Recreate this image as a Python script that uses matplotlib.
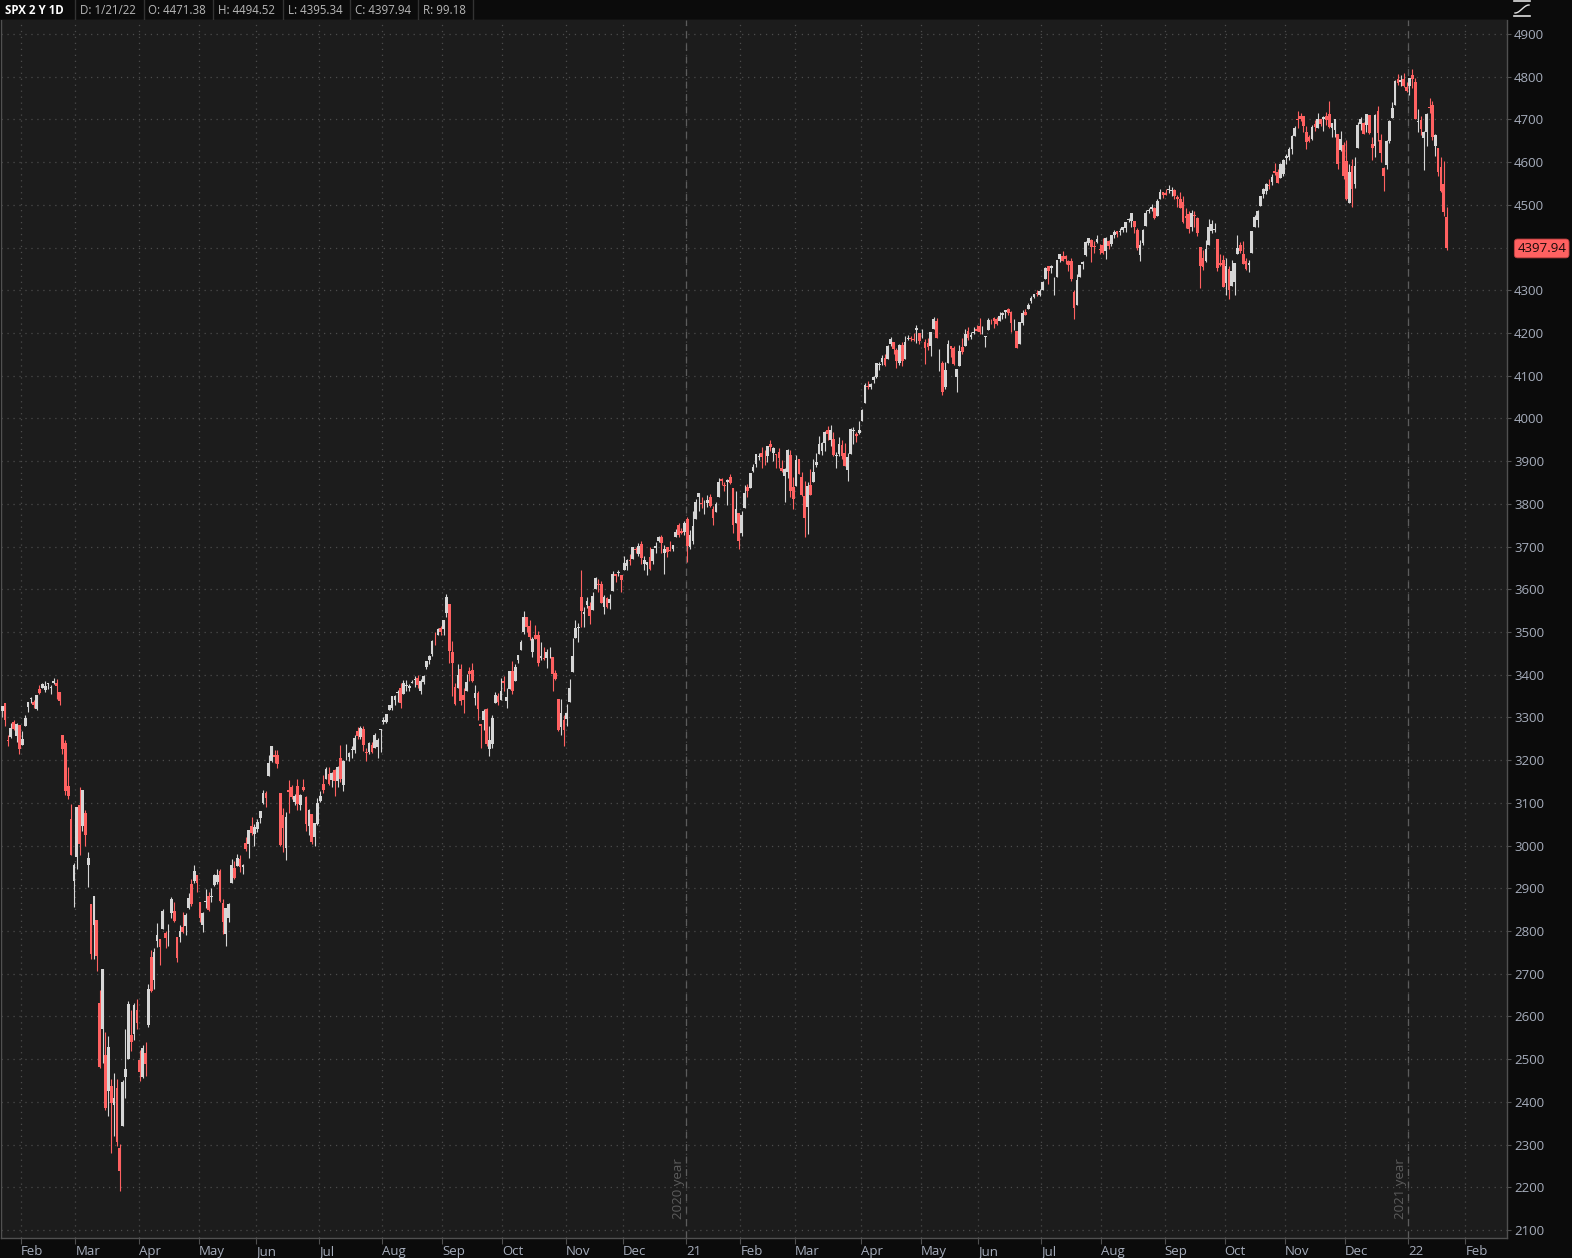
import numpy as np
import matplotlib
matplotlib.use("Agg")
import matplotlib.pyplot as plt
import matplotlib.transforms as mtransforms

plt.rcParams['font.family'] = ['Open Sans', 'DejaVu Sans']
plt.rcParams['lines.scale_dashes'] = False

# — SPX daily candles (open, high, low, close), one list per month —
jan20 = [(3321, 3329, 3301, 3321), (3330, 3337, 3320, 3322), (3316, 3326, 3302, 3326), (3334, 3334, 3281, 3295),
         (3248, 3259, 3234, 3244), (3255, 3286, 3253, 3276), (3289, 3293, 3271, 3273), (3256, 3286, 3242, 3284),
         (3283, 3283, 3214, 3226)]
feb20 = [(3235, 3268, 3235, 3249), (3280, 3306, 3280, 3298), (3324, 3337, 3313, 3335), (3344, 3347, 3334, 3346),
         (3335, 3341, 3322, 3328), (3319, 3352, 3317, 3352), (3366, 3376, 3355, 3358), (3370, 3381, 3369, 3379),
         (3365, 3385, 3360, 3374), (3379, 3381, 3367, 3380), (3369, 3375, 3355, 3370), (3380, 3393, 3378, 3386),
         (3380, 3390, 3342, 3373), (3360, 3360, 3328, 3338), (3258, 3260, 3215, 3226), (3239, 3247, 3119, 3128),
         (3140, 3183, 3109, 3116), (3063, 3097, 2977, 2979), (2917, 2960, 2856, 2954)]
mar20 = [(2974, 3091, 2945, 3090), (3096, 3137, 2977, 3003), (3046, 3131, 3034, 3130), (3076, 3083, 3000, 3024),
         (2954, 2986, 2902, 2972), (2864, 2864, 2734, 2747), (2813, 2883, 2734, 2882), (2826, 2826, 2707, 2741),
         (2631, 2661, 2479, 2481), (2570, 2711, 2492, 2711), (2509, 2563, 2381, 2386), (2426, 2554, 2367, 2529),
         (2437, 2454, 2281, 2398), (2393, 2467, 2320, 2409), (2432, 2453, 2296, 2305), (2291, 2301, 2192, 2237),
         (2344, 2450, 2344, 2447), (2458, 2571, 2408, 2476), (2501, 2637, 2501, 2630), (2556, 2616, 2520, 2541),
         (2559, 2632, 2545, 2627), (2615, 2641, 2571, 2585)]
apr20 = [(2499, 2522, 2448, 2471), (2458, 2533, 2455, 2527), (2514, 2539, 2460, 2489), (2579, 2676, 2575, 2664),
         (2738, 2756, 2657, 2659), (2686, 2760, 2664, 2750), (2776, 2819, 2762, 2790), (2782, 2782, 2721, 2762),
         (2805, 2851, 2805, 2846), (2795, 2801, 2761, 2783), (2799, 2816, 2765, 2800), (2843, 2879, 2830, 2875),
         (2846, 2868, 2821, 2823), (2785, 2785, 2727, 2737), (2787, 2815, 2775, 2799), (2810, 2845, 2795, 2798),
         (2812, 2842, 2791, 2837), (2855, 2888, 2852, 2878), (2910, 2922, 2859, 2863), (2918, 2954, 2912, 2940),
         (2930, 2930, 2892, 2912)]
may20 = [(2869, 2869, 2821, 2831), (2815, 2844, 2798, 2843), (2868, 2898, 2853, 2868), (2883, 2891, 2847, 2848),
         (2879, 2901, 2867, 2881), (2908, 2933, 2906, 2930), (2915, 2945, 2909, 2930), (2940, 2945, 2869, 2870),
         (2865, 2875, 2794, 2820), (2794, 2852, 2766, 2853), (2830, 2865, 2822, 2864), (2913, 2969, 2913, 2954),
         (2948, 2965, 2922, 2923), (2953, 2981, 2953, 2972), (2969, 2978, 2939, 2949), (2949, 2957, 2933, 2955),
         (3005, 3021, 2988, 2992), (3004, 3037, 2970, 3036), (3046, 3068, 3024, 3030), (3026, 3050, 2999, 3044)]
jun20 = [(3038, 3063, 3031, 3056), (3064, 3082, 3052, 3081), (3099, 3130, 3098, 3123), (3123, 3128, 3090, 3112),
         (3163, 3212, 3163, 3194), (3199, 3233, 3196, 3232), (3213, 3223, 3194, 3207), (3213, 3223, 3181, 3190),
         (3123, 3123, 2999, 3002), (3072, 3088, 2984, 3041), (2994, 3079, 2966, 3067), (3131, 3154, 3076, 3125),
         (3137, 3141, 3108, 3113), (3101, 3121, 3094, 3115), (3140, 3155, 3084, 3098), (3095, 3121, 3084, 3118),
         (3138, 3155, 3127, 3131), (3114, 3116, 3033, 3050), (3046, 3086, 3025, 3084), (3074, 3074, 3004, 3009),
         (3019, 3054, 2999, 3053), (3050, 3111, 3048, 3100)]
jul20 = [(3105, 3128, 3101, 3116), (3143, 3165, 3124, 3130), (3156, 3183, 3156, 3180), (3167, 3184, 3142, 3145),
         (3154, 3172, 3137, 3170), (3176, 3180, 3115, 3152), (3152, 3186, 3136, 3185), (3205, 3235, 3150, 3155),
         (3141, 3200, 3128, 3198), (3225, 3238, 3200, 3227), (3208, 3220, 3199, 3216), (3224, 3233, 3205, 3225),
         (3224, 3258, 3216, 3252), (3268, 3277, 3249, 3257), (3255, 3279, 3250, 3276), (3272, 3280, 3222, 3236),
         (3219, 3228, 3198, 3216), (3219, 3242, 3215, 3239), (3235, 3243, 3216, 3218), (3228, 3264, 3228, 3258),
         (3231, 3251, 3205, 3246), (3270, 3272, 3220, 3271)]
aug20 = [(3289, 3302, 3284, 3295), (3289, 3307, 3286, 3307), (3318, 3330, 3318, 3328), (3323, 3351, 3318, 3349),
         (3340, 3352, 3329, 3351), (3357, 3364, 3336, 3360), (3370, 3381, 3323, 3334), (3355, 3387, 3355, 3380),
         (3373, 3387, 3363, 3373), (3368, 3378, 3362, 3373), (3381, 3388, 3380, 3382), (3387, 3396, 3371, 3390),
         (3392, 3399, 3370, 3375), (3361, 3391, 3354, 3386), (3384, 3399, 3379, 3397), (3419, 3432, 3414, 3431),
         (3435, 3445, 3424, 3444), (3449, 3481, 3444, 3479), (3486, 3501, 3469, 3485), (3494, 3510, 3492, 3508),
         (3509, 3514, 3494, 3500)]
sep20 = [(3507, 3529, 3494, 3527), (3544, 3588, 3535, 3581), (3565, 3565, 3427, 3455), (3453, 3479, 3349, 3427),
         (3371, 3380, 3330, 3332), (3370, 3425, 3370, 3399), (3413, 3425, 3329, 3339), (3353, 3368, 3311, 3341),
         (3363, 3402, 3363, 3384), (3408, 3419, 3385, 3401), (3411, 3428, 3384, 3385), (3346, 3375, 3328, 3357),
         (3357, 3362, 3293, 3319), (3285, 3285, 3229, 3281), (3295, 3320, 3270, 3316), (3320, 3323, 3232, 3237),
         (3226, 3279, 3210, 3247), (3237, 3306, 3228, 3298), (3334, 3360, 3333, 3352), (3350, 3357, 3328, 3335),
         (3341, 3393, 3340, 3363)]
oct20 = [(3385, 3397, 3362, 3381), (3339, 3370, 3323, 3348), (3367, 3409, 3367, 3409), (3408, 3432, 3355, 3361),
         (3385, 3426, 3385, 3419), (3434, 3447, 3428, 3447), (3459, 3482, 3458, 3477), (3500, 3550, 3496, 3534),
         (3534, 3534, 3501, 3512), (3515, 3527, 3481, 3489), (3453, 3489, 3441, 3483), (3493, 3516, 3483, 3484),
         (3494, 3502, 3420, 3427), (3439, 3477, 3435, 3443), (3440, 3465, 3434, 3436), (3439, 3461, 3416, 3453),
         (3464, 3466, 3440, 3465), (3441, 3442, 3363, 3401), (3404, 3410, 3388, 3391), (3342, 3342, 3268, 3271),
         (3278, 3342, 3260, 3310), (3293, 3305, 3234, 3270)]
nov20 = [(3296, 3331, 3280, 3310), (3336, 3389, 3336, 3369), (3407, 3486, 3406, 3443), (3485, 3529, 3485, 3510),
         (3509, 3521, 3477, 3509), (3583, 3646, 3511, 3550), (3543, 3558, 3511, 3546), (3564, 3582, 3557, 3573),
         (3562, 3570, 3519, 3537), (3552, 3593, 3552, 3585), (3600, 3628, 3600, 3627), (3611, 3624, 3593, 3610),
         (3612, 3619, 3567, 3568), (3559, 3586, 3543, 3582), (3580, 3582, 3556, 3558), (3567, 3589, 3553, 3578),
         (3595, 3643, 3595, 3635), (3635, 3636, 3617, 3630), (3638, 3645, 3630, 3638), (3634, 3634, 3594, 3622)]
dec20 = [(3645, 3679, 3645, 3662), (3654, 3670, 3645, 3669), (3669, 3683, 3658, 3667), (3670, 3700, 3670, 3699),
         (3694, 3698, 3684, 3692), (3683, 3709, 3678, 3702), (3706, 3712, 3660, 3673), (3659, 3678, 3646, 3668),
         (3656, 3665, 3634, 3663), (3675, 3698, 3645, 3647), (3667, 3695, 3660, 3695), (3696, 3711, 3685, 3701),
         (3714, 3725, 3711, 3722), (3722, 3726, 3685, 3709), (3684, 3703, 3636, 3695), (3698, 3698, 3676, 3687),
         (3693, 3712, 3689, 3690), (3694, 3704, 3689, 3703), (3723, 3741, 3723, 3735), (3751, 3756, 3723, 3727),
         (3736, 3744, 3730, 3732), (3734, 3761, 3726, 3756)]
jan21 = [(3764, 3770, 3663, 3701), (3698, 3738, 3695, 3727), (3712, 3783, 3705, 3748), (3764, 3811, 3764, 3804),
         (3815, 3826, 3784, 3825), (3803, 3817, 3790, 3800), (3801, 3810, 3777, 3801), (3802, 3821, 3792, 3810),
         (3815, 3823, 3792, 3796), (3789, 3796, 3750, 3768), (3781, 3804, 3780, 3799), (3816, 3860, 3816, 3852),
         (3858, 3861, 3845, 3853), (3845, 3852, 3831, 3841), (3852, 3859, 3797, 3855), (3863, 3871, 3847, 3850),
         (3836, 3836, 3732, 3751), (3755, 3830, 3755, 3787), (3778, 3778, 3694, 3714)]
feb21 = [(3732, 3784, 3725, 3774), (3791, 3843, 3791, 3826), (3840, 3847, 3816, 3830), (3836, 3872, 3836, 3872),
         (3878, 3894, 3874, 3887), (3893, 3915, 3886, 3916), (3910, 3919, 3903, 3911), (3920, 3932, 3885, 3910),
         (3917, 3925, 3890, 3916), (3911, 3935, 3898, 3935), (3940, 3950, 3923, 3933), (3918, 3933, 3901, 3931),
         (3916, 3916, 3885, 3914), (3921, 3931, 3885, 3907), (3885, 3903, 3874, 3877), (3865, 3883, 3805, 3881),
         (3874, 3929, 3860, 3925), (3915, 3925, 3815, 3829), (3839, 3862, 3789, 3811)]
mar21 = [(3842, 3915, 3842, 3902), (3904, 3906, 3869, 3870), (3864, 3874, 3818, 3820), (3819, 3853, 3723, 3768),
         (3793, 3851, 3730, 3842), (3844, 3881, 3820, 3821), (3851, 3904, 3851, 3875), (3891, 3918, 3886, 3899),
         (3916, 3960, 3916, 3939), (3924, 3944, 3915, 3943), (3943, 3970, 3924, 3969), (3974, 3982, 3950, 3963),
         (3950, 3984, 3935, 3974), (3953, 3969, 3913, 3915), (3913, 3921, 3885, 3913), (3917, 3956, 3911, 3941),
         (3938, 3950, 3906, 3911), (3920, 3943, 3889, 3889), (3880, 3919, 3854, 3910), (3917, 3978, 3917, 3975),
         (3970, 3981, 3940, 3971), (3963, 3968, 3944, 3959), (3967, 3994, 3964, 3973)]
apr21 = [(3993, 4021, 3993, 4020), (4035, 4084, 4035, 4078), (4075, 4087, 4068, 4074), (4074, 4083, 4068, 4080),
         (4089, 4099, 4083, 4097), (4096, 4129, 4095, 4129), (4124, 4131, 4114, 4128), (4131, 4148, 4125, 4142),
         (4141, 4152, 4123, 4125), (4140, 4173, 4140, 4170), (4175, 4191, 4170, 4185), (4179, 4180, 4150, 4163),
         (4160, 4164, 4119, 4135), (4129, 4175, 4126, 4173), (4171, 4179, 4123, 4135), (4139, 4194, 4139, 4180),
         (4185, 4195, 4183, 4188), (4188, 4194, 4182, 4187), (4186, 4201, 4181, 4183), (4206, 4219, 4176, 4211),
         (4199, 4199, 4174, 4181)]
may21 = [(4192, 4209, 4188, 4193), (4180, 4187, 4128, 4165), (4177, 4188, 4161, 4168), (4170, 4202, 4147, 4202),
         (4210, 4238, 4210, 4233), (4228, 4236, 4188, 4188), (4150, 4162, 4111, 4152), (4130, 4135, 4056, 4063),
         (4074, 4131, 4069, 4113), (4130, 4184, 4130, 4174), (4169, 4170, 4144, 4163), (4165, 4170, 4124, 4128),
         (4098, 4116, 4062, 4116), (4122, 4173, 4122, 4159), (4168, 4188, 4151, 4156), (4170, 4210, 4170, 4197),
         (4205, 4213, 4183, 4188), (4191, 4203, 4187, 4196), (4201, 4213, 4197, 4201), (4210, 4218, 4204, 4204)]
jun21 = [(4216, 4234, 4198, 4202), (4206, 4217, 4198, 4208), (4191, 4193, 4167, 4193), (4207, 4234, 4207, 4230),
         (4229, 4233, 4220, 4227), (4234, 4237, 4211, 4227), (4233, 4238, 4219, 4220), (4229, 4249, 4229, 4239),
         (4242, 4249, 4233, 4247), (4248, 4255, 4235, 4255), (4256, 4258, 4242, 4247), (4249, 4252, 4202, 4224),
         (4220, 4233, 4206, 4222), (4204, 4204, 4165, 4166), (4174, 4226, 4174, 4225), (4224, 4255, 4218, 4246),
         (4249, 4256, 4241, 4242), (4257, 4271, 4257, 4266), (4274, 4287, 4271, 4281), (4285, 4292, 4282, 4291),
         (4293, 4301, 4287, 4292), (4290, 4302, 4287, 4298)]
jul21 = [(4301, 4321, 4301, 4320), (4326, 4355, 4326, 4352), (4356, 4357, 4315, 4344), (4352, 4359, 4340, 4358),
         (4321, 4331, 4290, 4321), (4330, 4372, 4330, 4370), (4373, 4386, 4366, 4385), (4381, 4393, 4368, 4369),
         (4381, 4383, 4362, 4374), (4369, 4370, 4346, 4360), (4368, 4376, 4322, 4327), (4297, 4301, 4233, 4258),
         (4266, 4337, 4266, 4323), (4331, 4359, 4331, 4359), (4361, 4369, 4350, 4367), (4382, 4415, 4381, 4412),
         (4410, 4423, 4405, 4422), (4417, 4419, 4367, 4401), (4403, 4416, 4387, 4401), (4412, 4430, 4411, 4419),
         (4396, 4408, 4384, 4395)]
aug21 = [(4406, 4422, 4385, 4387), (4392, 4424, 4373, 4423), (4416, 4417, 4397, 4403), (4408, 4430, 4404, 4429),
         (4429, 4441, 4423, 4437), (4438, 4439, 4424, 4432), (4436, 4445, 4430, 4437), (4442, 4449, 4436, 4448),
         (4446, 4461, 4436, 4461), (4464, 4469, 4460, 4468), (4462, 4480, 4448, 4480), (4462, 4462, 4435, 4448),
         (4441, 4445, 4395, 4400), (4383, 4418, 4368, 4406), (4410, 4444, 4406, 4442), (4451, 4489, 4451, 4480),
         (4485, 4492, 4482, 4486), (4490, 4502, 4486, 4496), (4493, 4496, 4468, 4470), (4475, 4513, 4474, 4509),
         (4514, 4538, 4514, 4529), (4529, 4531, 4515, 4523)]
sep21 = [(4528, 4537, 4522, 4524), (4535, 4546, 4527, 4537), (4532, 4541, 4521, 4535), (4535, 4536, 4513, 4520),
         (4518, 4522, 4494, 4514), (4514, 4529, 4493, 4493), (4506, 4521, 4457, 4459), (4474, 4492, 4446, 4469),
         (4479, 4485, 4435, 4443), (4447, 4487, 4439, 4481), (4477, 4485, 4448, 4474), (4470, 4471, 4428, 4433),
         (4402, 4402, 4306, 4358), (4375, 4394, 4348, 4354), (4368, 4417, 4367, 4396), (4406, 4466, 4406, 4449),
         (4438, 4464, 4435, 4455), (4442, 4457, 4437, 4443), (4419, 4419, 4346, 4353), (4363, 4385, 4357, 4359),
         (4371, 4383, 4307, 4308)]
oct21 = [(4317, 4375, 4289, 4357), (4349, 4356, 4279, 4300), (4310, 4370, 4310, 4346), (4320, 4365, 4288, 4364),
         (4385, 4429, 4384, 4400), (4407, 4412, 4387, 4391), (4386, 4416, 4361, 4361), (4368, 4375, 4347, 4351),
         (4359, 4372, 4342, 4364), (4387, 4439, 4387, 4438), (4448, 4476, 4448, 4471), (4464, 4488, 4447, 4486),
         (4498, 4521, 4498, 4520), (4525, 4540, 4517, 4536), (4532, 4551, 4526, 4550), (4547, 4560, 4537, 4545),
         (4554, 4573, 4547, 4566), (4580, 4598, 4570, 4575), (4578, 4585, 4551, 4552), (4563, 4598, 4562, 4596),
         (4573, 4608, 4568, 4605)]
nov21 = [(4610, 4620, 4595, 4614), (4613, 4636, 4604, 4631), (4631, 4664, 4620, 4661), (4662, 4684, 4662, 4680),
         (4700, 4719, 4681, 4698), (4707, 4715, 4697, 4702), (4708, 4708, 4670, 4685), (4670, 4685, 4631, 4647),
         (4660, 4663, 4648, 4649), (4655, 4688, 4651, 4683), (4689, 4698, 4672, 4683), (4680, 4715, 4680, 4701),
         (4702, 4702, 4684, 4689), (4700, 4708, 4672, 4705), (4708, 4718, 4687, 4698), (4712, 4744, 4680, 4683),
         (4679, 4692, 4659, 4691), (4676, 4702, 4660, 4701), (4665, 4665, 4585, 4595), (4628, 4673, 4625, 4655),
         (4640, 4647, 4560, 4567)]
dec21 = [(4602, 4652, 4511, 4513), (4505, 4596, 4505, 4577), (4590, 4608, 4496, 4538), (4548, 4613, 4540, 4592),
         (4632, 4695, 4632, 4687), (4690, 4706, 4675, 4701), (4691, 4695, 4666, 4667), (4688, 4713, 4670, 4712),
         (4710, 4711, 4667, 4669), (4643, 4660, 4606, 4634), (4637, 4713, 4612, 4710), (4720, 4732, 4649, 4669),
         (4652, 4667, 4600, 4621), (4587, 4589, 4532, 4568), (4594, 4651, 4583, 4649), (4650, 4698, 4645, 4697),
         (4703, 4740, 4703, 4726), (4733, 4792, 4733, 4791), (4795, 4807, 4780, 4786), (4788, 4805, 4778, 4793),
         (4795, 4808, 4775, 4779), (4776, 4787, 4765, 4766)]
jan22 = [(4778, 4797, 4758, 4797), (4804, 4819, 4774, 4794), (4788, 4798, 4700, 4701), (4694, 4725, 4671, 4696),
         (4698, 4708, 4663, 4677), (4656, 4674, 4582, 4670), (4670, 4715, 4638, 4713), (4729, 4749, 4716, 4726),
         (4733, 4744, 4651, 4659), (4637, 4666, 4614, 4663), (4632, 4632, 4568, 4577), (4589, 4611, 4530, 4533),
         (4548, 4603, 4475, 4483), (4471.38, 4494.52, 4395.34, 4397.94)]

months = [("", jan20), ("Feb", feb20), ("Mar", mar20), ("Apr", apr20), ("May", may20), ("Jun", jun20),
          ("Jul", jul20), ("Aug", aug20), ("Sep", sep20), ("Oct", oct20), ("Nov", nov20), ("Dec", dec20),
          ("21", jan21), ("Feb", feb21), ("Mar", mar21), ("Apr", apr21), ("May", may21), ("Jun", jun21),
          ("Jul", jul21), ("Aug", aug21), ("Sep", sep21), ("Oct", oct21), ("Nov", nov21), ("Dec", dec21),
          ("22", jan22)]
jan22_sessions = 20   # full January 2022, to place the Feb tick
header = ["D: 1/21/22", "O: 4471.38", "H: 4494.52", "L: 4395.34", "C: 4397.94", "R: 99.18"]
last_close = 4397.94

# — build arrays —
rows = np.array([r for _, m in months for r in m], dtype=float)
o, h, l, c = rows.T
x = np.arange(len(rows))
starts = np.cumsum([0] + [len(m) for _, m in months])[:-1]
tick_pos = [s - 0.45 for s in starts[1:]] + [starts[-1] + jan22_sessions - 0.45]
tick_lab = [lab for lab, _ in months[1:]] + ["Feb"]

BG_OUT = '#0b0b0b'
BG_IN = '#1c1c1c'
UP = '#d6d6d6'
DN = '#ff6161'
GRID = '#4c4c4c'
AXC = '#a6adbb'
LINE = '#505050'

W, H = 1572, 1258
fig = plt.figure(figsize=(W / 100, H / 100), dpi=100, facecolor=BG_OUT)
ax = fig.add_axes([1 / W, 20 / H, 1506 / W, 1218 / H])
ax.set_facecolor(BG_IN)

x0 = 9 + (1 - 22.3) / 2.866
x1 = 9 + (1507 - 22.3) / 2.866
ax.set_xlim(x0, x1)
ax.set_ylim(2100 - 8 / 0.42714, 4900 + 14 / 0.42714)

dots = (0, (0.9, 3.4))
for yv in range(2100, 5000, 100):
    ax.axhline(yv, color=GRID, lw=0.9, ls=dots, zorder=0)
for tp in tick_pos:
    ax.axvline(tp, color=GRID, lw=0.9, ls=dots, zorder=0)

# year separators
for s, yr in [(starts[12], "2020 year"), (starts[24], "2021 year")]:
    ax.axvline(s - 0.45, color='#5c5c5c', lw=0.9, ls=(0, (5, 4)), zorder=1)
    ax.text(s - 0.9, 2198, yr, rotation=90, ha='right', va='center', color='#5c5c5c', fontsize=9.5, zorder=1)

# — candles —
up = c >= o
cols = np.where(up, UP, DN)
ax.vlines(x, l, h, colors=cols, lw=0.8, zorder=2)
ax.bar(x, np.maximum(np.abs(c - o), 1.8), width=0.95, bottom=np.minimum(o, c), color=cols, linewidth=0, zorder=3)

# — axes styling —
for sp in ['left', 'bottom', 'right']:
    ax.spines[sp].set_color(LINE)
    ax.spines[sp].set_linewidth(1)
ax.spines['top'].set_visible(False)

ax.yaxis.tick_right()
yt = [v for v in range(2100, 5000, 100) if v != 4400]
ax.set_yticks(yt)
ax.set_yticklabels([str(v) for v in yt])
ax.tick_params(axis='y', colors=LINE, labelcolor=AXC, labelsize=9.5, length=3, pad=2)
ax.set_xticks(tick_pos)
ax.set_xticklabels(tick_lab, ha='left')
ax.tick_params(axis='x', colors=LINE, labelcolor=AXC, labelsize=9.5, length=4, pad=1)

# last price tag
tr = mtransforms.blended_transform_factory(ax.transAxes, ax.transData)
ax.text(1.0068, last_close, f"{last_close:.2f}", transform=tr, ha='left', va='center', fontsize=9.5,
        color='#1a0a0a', clip_on=False, zorder=10,
        bbox=dict(boxstyle='round,pad=0.22,rounding_size=0.25', fc=DN, ec='#c04040', lw=0.6))

# — header bar —
hx = fig.add_axes([0, (H - 20) / H, 1, 20 / H])
hx.set_xlim(0, W)
hx.set_ylim(20, 0)
hx.set_facecolor(BG_OUT)
hx.axis('off')
hx.add_patch(plt.Rectangle((0, 0), W, 20, color=BG_OUT, zorder=0))
hx.plot([0, 1507], [19.5, 19.5], color='#333333', lw=1)
for sx in [75, 144, 213, 283, 350, 418, 473]:
    hx.plot([sx, sx], [0, 19.5], color='#333333', lw=1)
hx.text(5, 10, "SPX 2 Y 1D", fontsize=8.3, fontweight='bold', color='white', va='center', ha='left')
for tx, s in zip([80, 148, 218, 288, 355, 423], header):
    hx.text(tx, 10, s, fontsize=8.3, color='#b8b8b8', va='center', ha='left')

# small study icon in the top-right corner
ix = fig.add_axes([1512 / W, (H - 18) / H, 20 / W, 18 / H])
ix.axis('off')
ix.set_xlim(0, 20)
ix.set_ylim(18, 0)
ix.plot([2, 18], [1, 1], color='#e0e0e0', lw=1.2)
ix.plot([2, 18], [16, 16], color='#e0e0e0', lw=1.2)
tt = np.linspace(0, 1, 30)
ix.plot(3 + 14 * tt, 9 + 4 * np.cos(np.pi * tt), color='#e0e0e0', lw=1)

fig.savefig("out.png", dpi=100, facecolor=BG_OUT)
